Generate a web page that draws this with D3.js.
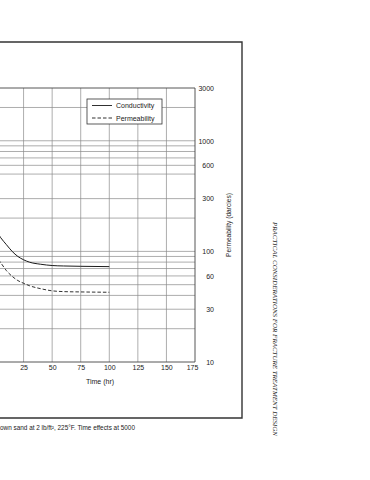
<!DOCTYPE html>
<html><head><meta charset="utf-8">
<script src="https://cdn.jsdelivr.net/npm/d3@7"></script>
<style>
html,body{margin:0;padding:0;background:#fff;}
svg{display:block;}
text{font-family:"Liberation Sans",Arial,sans-serif;fill:#222;}
</style></head>
<body>
<svg id="c" width="370" height="480"></svg>
<script>
// Data (values read on the right-hand log scale)
const timeHr = [0, 5, 10, 15, 20, 25, 30, 40, 50, 60, 75, 100];
const conductivity = [160, 133, 115, 100, 90, 84, 80, 76.5, 74.5, 73.8, 73.3, 72.8];
const permeability = [92, 79, 67, 59.5, 54.5, 51.5, 49, 46, 44, 43.3, 43, 42.7];
const seriesNames = ["Conductivity", "Permeability"];
const xTicks = [25, 50, 75, 100, 125, 150, 175];
const xGrid = [0, 25, 50, 75, 100, 125, 150];
const yTicks = [10, 30, 60, 100, 300, 600, 1000, 3000];
const yGrid = [20, 30, 40, 50, 60, 70, 80, 90, 100, 200, 300, 500, 600, 700, 800, 900, 1000, 2000];
const xTitle = "Time (hr)";
const yTitle = "Permeability (darcies)";
const caption = "own sand at 2 lb/ft\u00B2, 225\u00B0F. Time effects at 5000";
const header = "PRACTICAL CONSIDERATIONS FOR FRACTURE TREATMENT DESIGN";

const svg = d3.select("#c");
const x = d3.scaleLinear().domain([0, 175]).range([-5, 195]);
const y = d3.scaleLog().domain([10, 3000]).range([362, 88]);

// outer frame
svg.append("path").attr("d", "M0,42H242V418H0")
  .attr("fill", "none").attr("stroke", "#333").attr("stroke-width", 1.4);

// grid
const g = svg.append("g");
g.selectAll("line.h").data(yGrid).join("line").attr("class", "h")
  .attr("x1", x(0)).attr("x2", x(175)).attr("y1", d => y(d)).attr("y2", d => y(d))
  .attr("stroke", "#8a8a8a").attr("stroke-width", 0.7);
g.selectAll("line.v").data(xGrid).join("line").attr("class", "v")
  .attr("x1", d => x(d)).attr("x2", d => x(d)).attr("y1", y(3000)).attr("y2", y(10))
  .attr("stroke", "#8a8a8a").attr("stroke-width", 0.7);

// plot border (top, right, bottom)
svg.append("path")
  .attr("d", `M${x(0)},${y(3000)}H${x(175)}V${y(10)}H${x(0)}`)
  .attr("fill", "none").attr("stroke", "#444").attr("stroke-width", 0.9);

// axes
const ya = svg.append("g").attr("transform", `translate(${x(175)},0)`)
  .call(d3.axisRight(y).tickValues(yTicks).tickSize(0).tickPadding(19).tickFormat(d3.format("d")));
ya.select(".domain").remove();
ya.selectAll("text").attr("font-size", 7).attr("text-anchor", "end")
  .style("font-family", "Liberation Sans, Arial, sans-serif").attr("fill", "#222");

const xa = svg.append("g").attr("transform", `translate(0,${y(10)})`)
  .call(d3.axisBottom(x).tickValues(xTicks).tickSize(0).tickPadding(3));
xa.select(".domain").remove();
xa.selectAll("text").attr("font-size", 7).style("font-family", "Liberation Sans, Arial, sans-serif").attr("fill", "#222");
xa.selectAll(".tick").filter(d => d === 175).select("text").attr("dx", -3);

svg.append("text").attr("x", 100).attr("y", 384).attr("text-anchor", "middle")
  .attr("font-size", 7).text(xTitle);
svg.append("text").attr("transform", "translate(231,225) rotate(-90)")
  .attr("text-anchor", "middle").attr("font-size", 6.6).text(yTitle);

// curves
const line = d3.line().x((d, i) => x(timeHr[i])).y(d => y(d)).curve(d3.curveMonotoneX);
svg.append("path").attr("d", line(conductivity)).attr("fill", "none")
  .attr("stroke", "#1a1a1a").attr("stroke-width", 1);
svg.append("path").attr("d", line(permeability)).attr("fill", "none")
  .attr("stroke", "#1a1a1a").attr("stroke-width", 0.9).attr("stroke-dasharray", "3.5,2");

// legend
const lg = svg.append("g");
lg.append("rect").attr("x", 87).attr("y", 99).attr("width", 75).attr("height", 25)
  .attr("fill", "#fff").attr("stroke", "#333").attr("stroke-width", 0.8);
seriesNames.forEach((n, i) => {
  const yy = 105.5 + i * 12.5;
  lg.append("line").attr("x1", 92).attr("x2", 112).attr("y1", yy).attr("y2", yy)
    .attr("stroke", "#1a1a1a").attr("stroke-width", 0.9)
    .attr("stroke-dasharray", i === 1 ? "3.5,2" : null);
  lg.append("text").attr("x", 116).attr("y", yy + 2.5).attr("font-size", 7).text(n);
});

// caption
svg.append("text").attr("x", 0).attr("y", 430).attr("font-size", 6.4).text(caption);

// running header
svg.append("text").attr("transform", "translate(273,222) rotate(90)")
  .attr("font-size", 6.6).style("font-family", "Liberation Serif, Times New Roman, serif")
  .style("font-style", "italic")
  .attr("textLength", 214).attr("lengthAdjust", "spacingAndGlyphs").text(header);
</script>
</body></html>
